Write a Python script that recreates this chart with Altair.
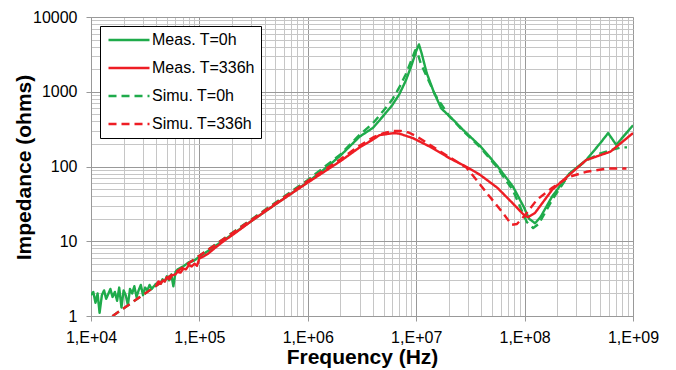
import altair as alt
import pandas as pd

SERIES = ["Meas. T=0h", "Meas. T=336h", "Simu. T=0h", "Simu. T=336h"]
COLORS = ["#1fab4b", "#ee1d24", "#1fab4b", "#ee1d24"]
DASHES = [[1, 0], [1, 0], [8, 5], [8, 5]]

# Meas. T=0h (green, solid)
meas0_f = [1.00e4, 1.05e4, 1.10e4, 1.15e4, 1.20e4, 1.26e4, 1.32e4, 1.38e4, 1.45e4, 1.51e4,
           1.58e4, 1.66e4, 1.74e4, 1.82e4, 1.91e4, 2.00e4, 2.09e4, 2.19e4, 2.29e4, 2.40e4,
           2.51e4, 2.63e4, 2.75e4, 2.88e4, 3.02e4, 3.16e4, 3.31e4, 3.47e4, 3.63e4, 3.80e4,
           3.98e4, 4.17e4, 4.37e4, 4.57e4, 4.79e4, 5.01e4, 5.25e4, 5.50e4, 5.75e4, 6.03e4,
           6.31e4, 7.08e4, 7.94e4, 8.91e4, 1.0e5, 2.0e5, 5.0e5, 1.0e6, 1.5e6, 2.0e6,
           3.0e6, 4.0e6, 5.0e6, 6.0e6, 7.0e6, 8.0e6, 9.0e6, 1.0e7, 1.06e7, 1.12e7,
           1.25e7, 1.45e7, 1.7e7, 2.2e7, 2.7e7, 3.9e7, 5.5e7, 7.8e7, 9.8e7, 1.1e8,
           1.25e8, 1.4e8, 1.8e8, 2.6e8, 3.7e8, 5.0e8, 5.9e8, 7.0e8, 1.0e9]
meas0_z = [1.9, 2.1, 1.5, 2.0, 1.1, 1.9, 2.2, 1.7, 2.0, 2.3,
           1.8, 2.1, 1.6, 2.4, 1.3, 2.2, 1.9, 1.4, 2.3, 2.0,
           2.5, 1.8, 2.2, 2.6, 1.9, 2.4, 2.2, 2.6, 2.3, 2.5,
           2.7, 2.8, 2.7, 3.1, 2.9, 3.4, 3.0, 3.6, 2.5, 3.9,
           4.2, 4.6, 5.2, 5.5, 6.2, 12.3, 31, 62, 98, 140,
           250, 330, 480, 660, 930, 1400, 2200, 3500, 4300, 3300,
           1780, 1000, 600, 420, 310, 187, 105, 54, 29, 20,
           17.4, 21, 40, 81, 122, 206, 280, 195, 355]

# Meas. T=336h (red, solid)
meas336_f = [4.0e4, 4.2e4, 4.4e4, 4.6e4, 4.8e4, 5.0e4, 5.3e4, 5.6e4, 6.0e4, 6.3e4,
             6.7e4, 7.1e4, 7.5e4, 8.0e4, 8.5e4, 9.0e4, 9.5e4, 1.0e5, 1.1e5, 1.2e5,
             1.4e5, 1.7e5, 2.0e5, 3.0e5, 5.0e5, 1.0e6, 2.0e6, 3.0e6, 4.0e6, 4.6e6,
             6.2e6, 7.0e6, 9.3e6, 1.35e7, 2.05e7, 2.95e7, 3.9e7, 5.6e7, 7.8e7, 1.0e8,
             1.08e8, 1.25e8, 1.8e8, 2.6e8, 3.7e8, 6.2e8, 1.0e9]
meas336_z = [2.6, 2.9, 2.7, 3.0, 2.9, 3.3, 3.1, 3.5, 3.6, 3.9,
             3.8, 4.3, 4.2, 4.8, 4.6, 5.0, 4.7, 5.9, 6.3, 6.8,
             8.2, 10.2, 12.0, 18.5, 31, 61, 118, 180, 230, 263,
             280, 275, 240, 183, 128, 98, 77, 52, 32, 22,
             21, 24, 49, 78, 122, 158, 280]

# Simu. T=0h (green, dashed)
simu0_f = [1.0e4, 1.0e5, 1.0e6, 2.0e6, 3.0e6, 4.0e6, 5.0e6, 6.0e6, 7.0e6, 8.0e6,
           9.0e6, 9.8e6, 1.03e7, 1.1e7, 1.25e7, 1.5e7, 2.0e7, 2.7e7, 3.9e7, 5.5e7,
           7.8e7, 9.5e7, 1.05e8, 1.2e8, 1.35e8, 1.8e8, 2.6e8, 3.7e8, 5.0e8, 6.5e8,
           7.8e8, 8.8e8]
simu0_z = [0.63, 6.4, 66, 145, 265, 380, 560, 780, 1150, 1700,
           2600, 3600, 3300, 2400, 1600, 900, 480, 300, 180, 100,
           48, 25, 18, 15, 17, 36, 80, 120, 150, 168,
           180, 180]

# Simu. T=336h (red, dashed)
simu336_f = [1.0e4, 1.0e5, 1.0e6, 2.0e6, 3.0e6, 4.0e6, 5.0e6, 6.0e6, 7.2e6, 8.5e6,
             1.0e7, 1.5e7, 2.0e7, 2.9e7, 3.6e7, 4.8e7, 6.3e7, 7.6e7, 8.5e7, 1.0e8,
             1.3e8, 1.8e8, 2.6e8, 3.7e8, 5.8e8, 8.7e8]
simu336_z = [0.63, 6.4, 64, 125, 190, 245, 280, 298, 300, 285,
             255, 175, 135, 97, 66, 39, 24, 16.6, 17, 22,
             36, 52, 73, 85, 94, 94]

rows = []
for name, fs, zs in [
    ("Meas. T=0h", meas0_f, meas0_z),
    ("Simu. T=0h", simu0_f, simu0_z),
    ("Simu. T=336h", simu336_f, simu336_z),
    ("Meas. T=336h", meas336_f, meas336_z),
]:
    for f, z in zip(fs, zs):
        rows.append({"f": f, "z": z, "series": name})
df = pd.DataFrame(rows)

x_vals = [m * 10 ** e for e in range(4, 9) for m in range(1, 10)] + [10 ** 9]
y_vals = [m * 10 ** e for e in range(0, 4) for m in range(1, 10)] + [10 ** 4]

DEC = "abs(log(datum.value)/LN10 - round(log(datum.value)/LN10)) < 0.000001"
MAJOR = "#999999"
MINOR = "#c6c6c6"

grid_color = {"condition": {"test": DEC, "value": MAJOR}, "value": MINOR}
tick_color = {"condition": {"test": DEC, "value": MAJOR}, "value": "transparent"}

FONT = "Liberation Sans"

legend = alt.Legend(
    title=None,
    orient="none",
    legendX=9,
    legendY=9,
    fillColor="white",
    strokeColor="black",
    padding=6,
    symbolType="M-4,0H4",
    symbolSize=105,
    symbolOffset=15,
    symbolStrokeWidth=2.5,
    labelFontSize=16,
    labelFont=FONT,
    labelColor="black",
    labelOffset=15,
    rowPadding=12,
    labelLimit=300,
)

chart = alt.Chart(df).mark_line(strokeWidth=2.4, clip=True, strokeJoin="round").encode(
    x=alt.X(
        "f:Q",
        scale=alt.Scale(type="log", domain=[1e4, 1e9], nice=False),
        axis=alt.Axis(
            values=x_vals,
            title="Frequency (Hz)",
            titleFont=FONT,
            titleFontSize=21,
            titleFontWeight="bold",
            titleColor="black",
            titleX=271,
            titleY=47,
            titleBaseline="alphabetic",
            titleAlign="center",
            labelExpr=f"({DEC}) ? '1,E+0' + round(log(datum.value)/LN10) : ''",
            labelFont=FONT,
            labelFontSize=16,
            labelColor="black",
            labelPadding=8,
            labelFlush=False,
            labelOverlap=False,
            tickSize=5,
            tickColor=tick_color,
            gridColor=grid_color,
            domainColor=MAJOR,
        ),
    ),
    y=alt.Y(
        "z:Q",
        scale=alt.Scale(type="log", domain=[1, 10000], nice=False),
        axis=alt.Axis(
            values=y_vals,
            title="Impedance (ohms)",
            titleFont=FONT,
            titleFontSize=21,
            titleFontWeight="bold",
            titleColor="black",
            titleAngle=-90,
            titleX=-61,
            titleY=150,
            titleBaseline="alphabetic",
            titleAlign="center",
            labelExpr=f"({DEC}) ? format(datum.value, 'd') : ''",
            labelFont=FONT,
            labelFontSize=16,
            labelColor="black",
            labelPadding=9,
            labelFlush=False,
            labelOverlap=False,
            tickSize=5,
            tickColor=tick_color,
            gridColor=grid_color,
            domainColor=MAJOR,
        ),
    ),
    color=alt.Color("series:N", scale=alt.Scale(domain=SERIES, range=COLORS), legend=legend),
    strokeDash=alt.StrokeDash("series:N", scale=alt.Scale(domain=SERIES, range=DASHES), legend=legend),
).properties(
    width=542,
    height=299,
    autosize=alt.AutoSizeParams(type="none"),
    padding={"left": 91, "top": 17, "right": 43, "bottom": 54},
).configure_view(stroke=None).configure(background="white")

chart.save("out.html", embed_options={"renderer": "svg", "actions": False})
